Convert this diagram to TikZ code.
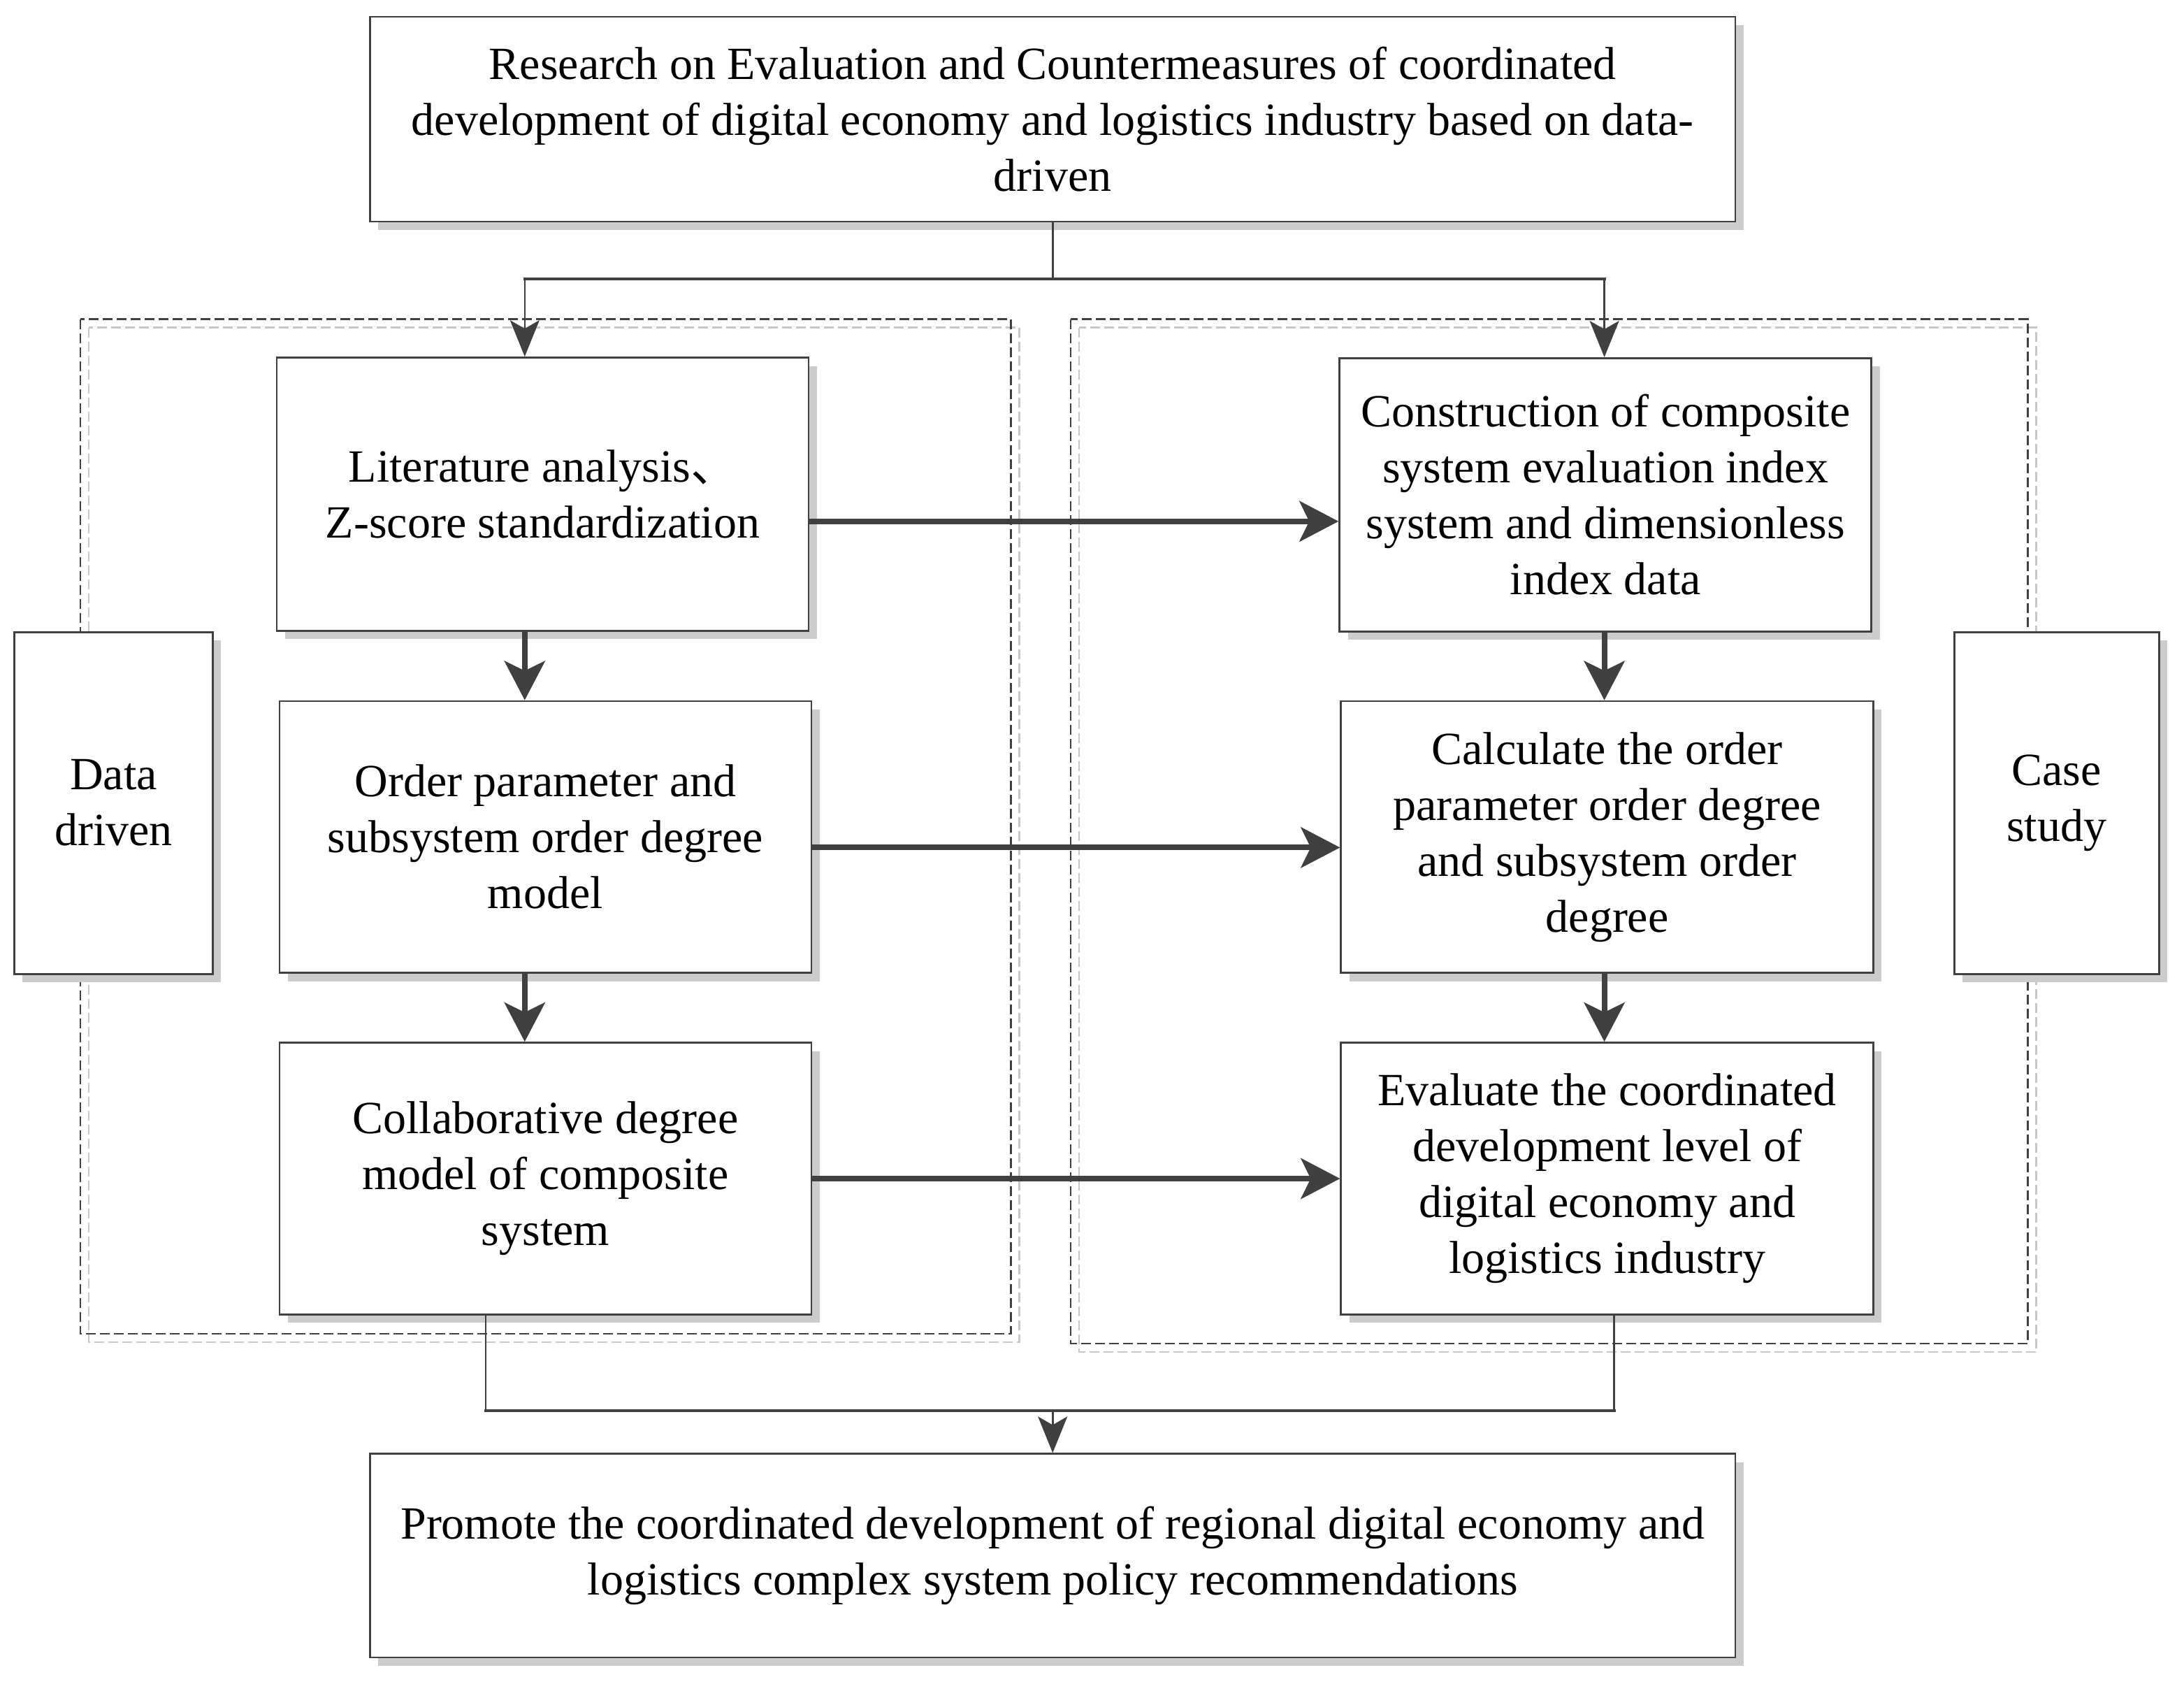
\documentclass[tikz,border=0pt]{standalone}
\usepackage{fontspec}
\setmainfont{Liberation Serif}
\newfontfamily\cjk{Noto Sans CJK SC}
\usetikzlibrary{arrows.meta,shadows,calc}
\definecolor{ln}{HTML}{404040}
\begin{document}
\begin{tikzpicture}[x=1pt,y=-1pt,
  box/.style={draw=ln, line width=1.4pt, fill=white, align=center, inner sep=0pt,
    font=\fontsize{33}{40}\selectfont,
    drop shadow={shadow xshift=6pt, shadow yshift=-6pt, fill=black!20, opacity=1}},
  dframe/.style={draw=ln, line width=1.2pt, dash pattern=on 7pt off 3pt},
  dshadow/.style={draw=black!22, line width=1.2pt, dash pattern=on 7pt off 3pt},
  thickarrow/.style={draw=ln, line width=4pt, -{Stealth[length=28pt,width=29pt,inset=7pt]}},
  thinarrow/.style={draw=ln, line width=1.3pt, -{Stealth[length=26pt,width=21pt,inset=6pt]}},
  thinline/.style={draw=ln, line width=1.3pt},
  busline/.style={draw=ln, line width=2.2pt, line cap=rect}]
\useasboundingbox (0,0) rectangle (1562.5,1204);
\fill[white] (0,0) rectangle (1562.5,1204);

% dashed frames
\draw[dshadow] (63.4,234.3) rectangle (729.2,960.1);
\draw[dframe] (57.4,228.3) rectangle (723.2,954.1);
\draw[dshadow] (772.1,234.3) rectangle (1456.8,967.1);
\draw[dframe] (766.1,228.3) rectangle (1450.8,961.1);

% boxes
\node[box, minimum width=976.8pt, minimum height=146.5pt] (top) at (753.1,85.25)
  {Research on Evaluation and Countermeasures of coordinated\\development of digital economy and logistics industry based on data-\\driven};
\node[box, minimum width=380.5pt, minimum height=195.3pt] (lit) at (388.25,353.4)
  {Literature analysis{\cjk 、}\\Z-score standardization};
\node[box, minimum width=380.5pt, minimum height=194.4pt] (ord) at (390.2,598.7)
  {Order parameter and\\subsystem order degree\\model};
\node[box, minimum width=380.5pt, minimum height=194.4pt] (col) at (390.2,843)
  {Collaborative degree\\model of composite\\system};
\node[box, minimum width=380.5pt, minimum height=195.4pt] (con) at (1148.6,353.9)
  {Construction of composite\\system evaluation index\\system and dimensionless\\index data};
\node[box, minimum width=380.8pt, minimum height=194.4pt] (cal) at (1149.8,598.7)
  {Calculate the order\\parameter order degree\\and subsystem order\\degree};
\node[box, minimum width=380.8pt, minimum height=194.4pt] (eva) at (1149.8,843)
  {Evaluate the coordinated\\development level of\\digital economy and\\logistics industry};
\node[box, minimum width=142pt, minimum height=244.5pt] (dd) at (81.2,574.3) {Data\\driven};
\node[box, minimum width=146.5pt, minimum height=244.5pt] (cs) at (1471.3,574.3) {Case\\study};
\node[box, minimum width=976.8pt, minimum height=145.6pt] (bot) at (753.1,1112.7)
  {Promote the coordinated development of regional digital economy and\\logistics complex system policy recommendations};

% helper coordinates
\coordinate (lx) at (375.4,0);
\coordinate (rx) at (1147.8,0);
\coordinate (jt) at (753.1,199.4);
\coordinate (jb) at (753.1,1009);
\coordinate (bl) at (347.5,0);
\coordinate (br) at (1154.8,0);

% top split
\draw[thinline] (top.south) -- (jt);
\draw[busline] (jt -| lx) -- (jt -| rx);
\draw[thinarrow] (jt -| lx) -- (lit.north -| lx);
\draw[thinarrow] (jt -| rx) -- (con.north -| rx);

% vertical thick arrows
\draw[thickarrow] (lit.south -| lx) -- (ord.north -| lx);
\draw[thickarrow] (ord.south -| lx) -- (col.north -| lx);
\draw[thickarrow] (con.south -| rx) -- (cal.north -| rx);
\draw[thickarrow] (cal.south -| rx) -- (eva.north -| rx);

% horizontal thick arrows
\draw[thickarrow] ([yshift=-19.5pt]lit.east) -- ([yshift=-19.5pt]lit.east -| con.west);
\draw[thickarrow] ([yshift=-7.5pt]ord.east) -- ([yshift=-7.5pt]ord.east -| cal.west);
\draw[thickarrow] (col.east) -- (col.east -| eva.west);

% bottom merge
\draw[thinline] (col.south -| bl) -- (jb -| bl);
\draw[thinline] (eva.south -| br) -- (jb -| br);
\draw[busline] (jb -| bl) -- (jb -| br);
\draw[thinarrow] (jb) -- (bot.north);
\end{tikzpicture}
\end{document}
